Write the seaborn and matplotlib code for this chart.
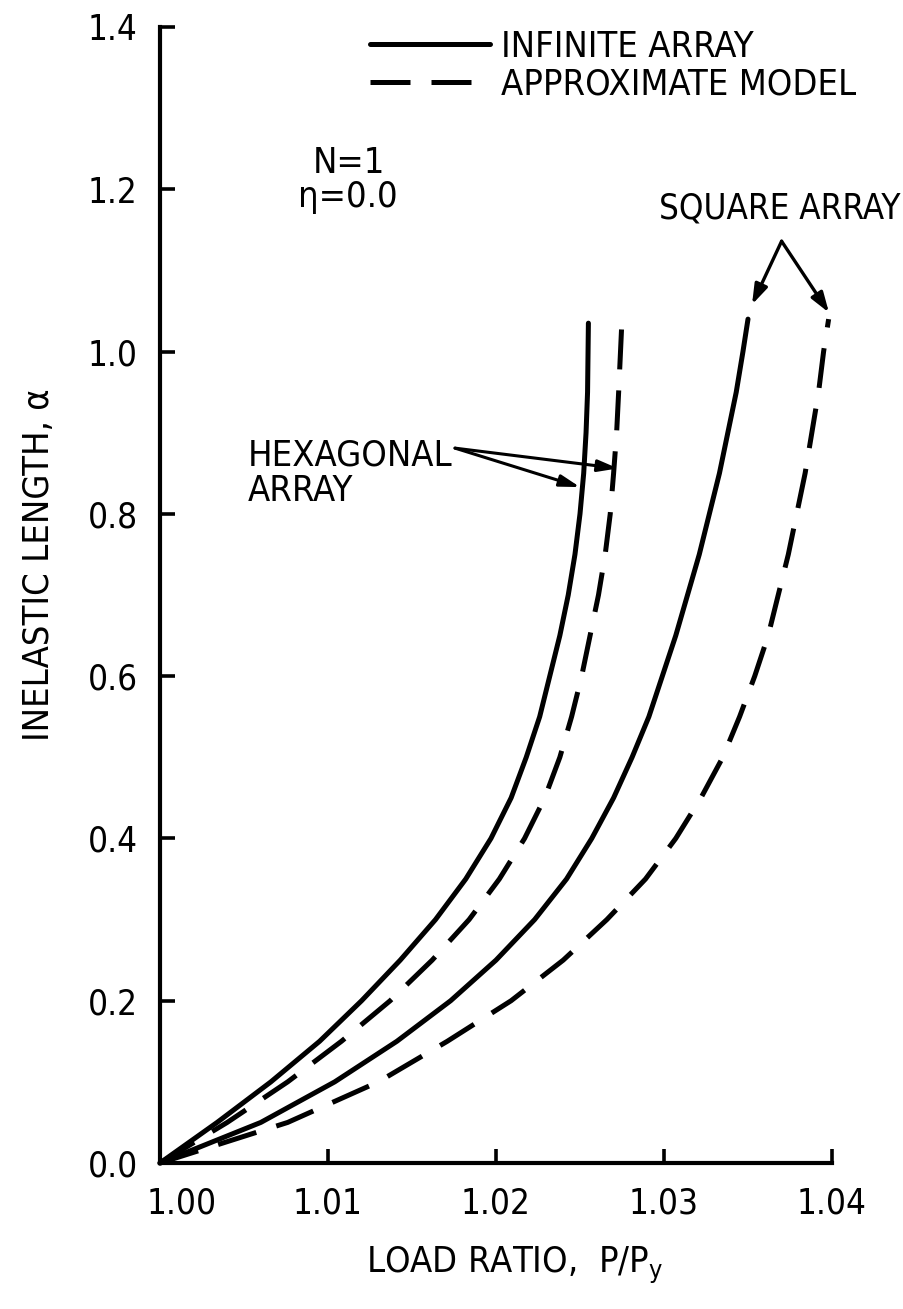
import numpy as np
import pandas as pd
import matplotlib
matplotlib.use("Agg")
import matplotlib.pyplot as plt
import matplotlib.transforms as mtransforms
import seaborn as sns
from matplotlib.lines import Line2D
from matplotlib import font_manager as fm

# ---------------- data ----------------
hex_inf_a = [0.0, 0.05, 0.10, 0.15, 0.20, 0.25, 0.30, 0.35, 0.40, 0.45, 0.50,
             0.55, 0.60, 0.65, 0.70, 0.75, 0.80, 0.85, 0.90, 0.95, 1.035]
hex_inf_x = [1.0000, 1.0034, 1.0066, 1.0095, 1.0120, 1.0143, 1.0164, 1.0182, 1.0197, 1.0209, 1.0218,
             1.0226, 1.0232, 1.0238, 1.0243, 1.0247, 1.0250, 1.02522, 1.02536, 1.02545, 1.0255]

hex_apx_a = [0.0, 0.05, 0.10, 0.15, 0.20, 0.25, 0.30, 0.35, 0.40, 0.45, 0.50,
             0.55, 0.60, 0.65, 0.70, 0.75, 0.80, 0.85, 0.90, 0.95, 1.04]
hex_apx_x = [1.0000, 1.0040, 1.0076, 1.0108, 1.0137, 1.0162, 1.0184, 1.0202, 1.0217, 1.0229, 1.0238,
             1.0245, 1.0251, 1.0256, 1.0261, 1.0265, 1.0268, 1.0270, 1.02718, 1.0273, 1.0275]

sq_inf_a = [0.0, 0.05, 0.10, 0.15, 0.20, 0.25, 0.30, 0.35, 0.40, 0.45, 0.50,
            0.55, 0.60, 0.65, 0.70, 0.75, 0.80, 0.85, 0.90, 0.95, 1.00, 1.04]
sq_inf_x = [1.0000, 1.0060, 1.0104, 1.0141, 1.0173, 1.0200, 1.0223, 1.0242, 1.0257, 1.0270, 1.0281,
            1.0291, 1.0299, 1.0307, 1.0314, 1.0321, 1.0327, 1.0333, 1.0338, 1.0343, 1.0347, 1.0350]

sq_apx_a = [0.0, 0.05, 0.10, 0.15, 0.20, 0.25, 0.30, 0.35, 0.40, 0.45, 0.50,
            0.55, 0.60, 0.65, 0.70, 0.75, 0.80, 0.85, 0.90, 0.95, 1.00, 1.04]
sq_apx_x = [1.0000, 1.0076, 1.0130, 1.0171, 1.0209, 1.0240, 1.0266, 1.0289, 1.0307, 1.0322, 1.0335,
            1.0345, 1.0354, 1.0362, 1.0368, 1.0374, 1.0379, 1.0384, 1.0388, 1.0392, 1.0395, 1.0398]

x_ticks = [1.00, 1.01, 1.02, 1.03, 1.04]
x_tick_labels = ["1.00", "1.01", "1.02", "1.03", "1.04"]
y_ticks = [0.0, 0.2, 0.4, 0.6, 0.8, 1.0, 1.2, 1.4]
y_tick_labels = ["0.0", "0.2", "0.4", "0.6", "0.8", "1.0", "1.2", "1.4"]

model_names = ["INFINITE ARRAY", "APPROXIMATE MODEL"]

# ---------------- table for seaborn ----------------
frames = []
for curve, model, xs, ys in [
    ("hex_inf", model_names[0], hex_inf_x, hex_inf_a),
    ("hex_apx", model_names[1], hex_apx_x, hex_apx_a),
    ("sq_inf", model_names[0], sq_inf_x, sq_inf_a),
    ("sq_apx", model_names[1], sq_apx_x, sq_apx_a),
]:
    frames.append(pd.DataFrame({"curve": curve, "model": model, "P": xs, "alpha": ys}))
df = pd.concat(frames, ignore_index=True)

# ---------------- style ----------------
sns.set_style("ticks")
fonts = fm.fontManager.ttflist
names = {f.name for f in fonts}
cond_dejavu = any(f.name == "DejaVu Sans" and f.stretch in ("condensed", "semi-condensed")
                  for f in fonts)
if "Liberation Sans Narrow" in names:
    FAM = ["Liberation Sans Narrow", "DejaVu Sans"]
    STRETCH = "normal"
    S = 1.0
elif cond_dejavu:
    FAM = ["DejaVu Sans"]
    STRETCH = "condensed"
    S = 0.93
else:
    FAM = ["DejaVu Sans"]
    STRETCH = "normal"
    S = 0.84
plt.rcParams["font.family"] = FAM
plt.rcParams["font.stretch"] = STRETCH
for key in ("text.color", "axes.labelcolor", "xtick.color", "ytick.color", "axes.edgecolor"):
    plt.rcParams[key] = "black"
FS = 28 * S
TFS = 27 * S

LW = 3.6
DASH = (8, 4.2)

fig = plt.figure(figsize=(9.04, 13.09), dpi=100)
ax = fig.add_axes([160 / 904, 1 - 1163 / 1309, 672 / 904, (1163 - 27) / 1309])

sns.lineplot(data=df, x="P", y="alpha", units="curve", estimator=None, sort=False,
             style="model", style_order=model_names,
             dashes={model_names[0]: "", model_names[1]: DASH},
             color="black", linewidth=LW, legend=False, ax=ax, clip_on=False)

ax.set_xlim(1.00, 1.04)
ax.set_ylim(0.0, 1.4)
ax.set_xticks(x_ticks)
ax.set_xticklabels(x_tick_labels)
ax.set_yticks(y_ticks)
ax.set_yticklabels(y_tick_labels)
sns.despine(ax=ax)
for sp in ("left", "bottom"):
    ax.spines[sp].set_linewidth(3.0)
    ax.spines[sp].set_color("black")
ax.tick_params(axis="x", direction="in", length=10, width=2.6, labelsize=TFS, pad=17)
ax.tick_params(axis="y", direction="in", length=11, width=2.6, labelsize=TFS, pad=16)

# the first x label sits to the right of the corner in the original
first = ax.get_xticklabels()[0]
first.set_transform(first.get_transform() +
                    mtransforms.ScaledTranslation(22 / 100, 0, fig.dpi_scale_trans))

ax.set_xlabel(r"LOAD RATIO,  P/P$_\mathregular{y}$", fontsize=FS)
ax.xaxis.set_label_coords(0.528, -0.072)
ax.set_ylabel("INELASTIC LENGTH, α", fontsize=FS)
ax.yaxis.set_label_coords(-0.155, 0.527)

# legend
handles = [Line2D([], [], color="black", lw=LW),
           Line2D([], [], color="black", lw=LW, dashes=DASH)]
hl = 120 / (FS * 100 / 72)
fig.legend(handles, model_names, loc="upper left", bbox_to_anchor=(370 / 904, 1 - 30 / 1309),
           frameon=False, fontsize=FS, handlelength=hl, handletextpad=0.3,
           labelspacing=0.1, borderpad=0, borderaxespad=0)

# annotations
ax.text(1.0091, 1.232, "N=1", fontsize=FS, ha="left", va="center")
ax.text(1.0082, 1.190, "η=0.0", fontsize=FS, ha="left", va="center")

ax.text(1.0369, 1.176, "SQUARE ARRAY", fontsize=FS * 0.96, ha="center", va="center")
apex = (1.0370, 1.136)
for tip in [(1.03524, 1.058), (1.03982, 1.048)]:
    ax.annotate("", xy=tip, xytext=apex, annotation_clip=False,
                arrowprops=dict(arrowstyle="-|>,head_length=1.2,head_width=0.4",
                                color="black", lw=2.4, shrinkA=0, shrinkB=0))

ax.text(1.00524, 0.85, "HEXAGONAL\nARRAY", fontsize=FS, ha="left", va="center",
        linespacing=1.05)
start = (1.01756, 0.881)
for tip in [(1.0250, 0.833), (1.02726, 0.856)]:
    ax.annotate("", xy=tip, xytext=start, annotation_clip=False,
                arrowprops=dict(arrowstyle="-|>,head_length=1.2,head_width=0.35",
                                color="black", lw=2.2, shrinkA=0, shrinkB=0))

fig.savefig("out.png", dpi=100)
